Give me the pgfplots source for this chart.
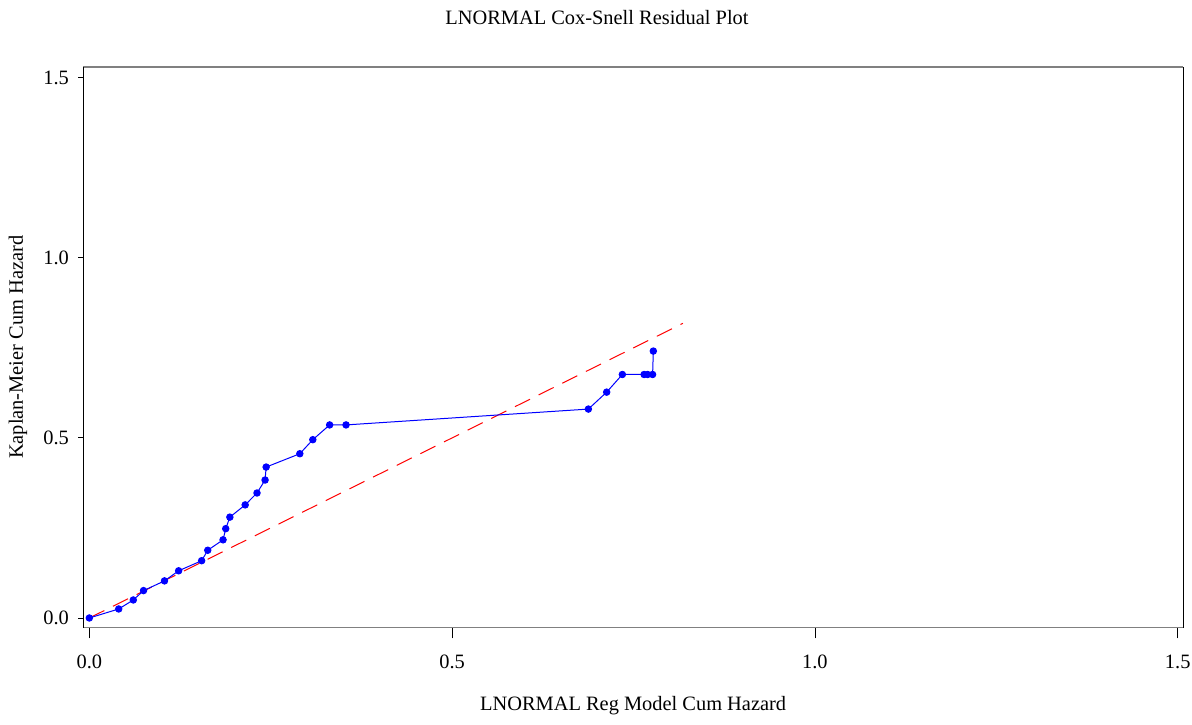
\documentclass[border=0pt]{standalone}
\usepackage{fontspec}
\setmainfont{Liberation Serif}
\usepackage{pgfplots}
\pgfplotsset{compat=1.18}
\begin{document}
\begin{tikzpicture}
\begin{axis}[
  scale only axis,
  width=549.85pt, height=280.35pt,
  xmin=-0.0083, xmax=1.5073,
  ymin=-0.027, ymax=1.5297,
  xtick={0,0.5,1,1.5}, ytick={0,0.5,1,1.5},
  xtick pos=bottom, ytick pos=left,
  tick align=outside,
  major tick length=5.3pt,
  ytick style={/pgfplots/major tick length=2.5pt},
  every tick/.style={black, line width=0.4pt},
  separate axis lines,
  x axis line style={draw={rgb,255:red,128;green,128;blue,128}, line width=0.65pt},
  y axis line style={draw=black, line width=0.45pt},
  /pgf/number format/assume math mode=true,
  xticklabel={\pgfmathprintnumber[fixed,fixed zerofill,precision=1]{\tick}},
  yticklabel={\pgfmathprintnumber[fixed,fixed zerofill,precision=1]{\tick}},
  font=\fontsize{10.2}{12}\selectfont,
  ticklabel style={font=\fontsize{10.2}{12}\selectfont},
  xticklabel style={anchor=base, inner sep=0pt, yshift=-14.9pt},
  yticklabel style={anchor=east, inner sep=0pt, xshift=-1.7pt},
  xlabel={LNORMAL Reg Model Cum Hazard},
  ylabel={Kaplan-Meier Cum Hazard},
  xlabel style={at={(rel axis cs:0.5,-0.147)}, anchor=base, inner sep=0pt},
  ylabel style={at={(rel axis cs:-0.0549,0.5)}, anchor=base, inner sep=0pt, rotate=0},
  title={LNORMAL Cox-Snell Residual Plot},
  title style={at={(rel axis cs:0.4671,1.0749)}, anchor=base, inner sep=0pt, yshift=-6pt, font=\fontsize{10.2}{12}\selectfont},
]
\addplot[red, line width=0.5pt, dash pattern=on 8.4pt off 4.8pt] coordinates {(0,0) (0.818,0.818)};
\addplot[blue, line width=0.5pt, mark=*, mark size=1.6pt, mark options={solid, fill=blue, draw=blue}] coordinates {
(0.0000,0.000)
(0.0405,0.025)
(0.0606,0.050)
(0.0747,0.076)
(0.1036,0.103)
(0.1231,0.131)
(0.1548,0.159)
(0.1632,0.188)
(0.1843,0.217)
(0.1880,0.248)
(0.1937,0.280)
(0.2148,0.314)
(0.2311,0.347)
(0.2422,0.383)
(0.2437,0.419)
(0.2901,0.456)
(0.3080,0.495)
(0.3312,0.536)
(0.3538,0.536)
(0.6878,0.580)
(0.7130,0.627)
(0.7346,0.676)
(0.7646,0.676)
(0.7694,0.676)
(0.7763,0.676)
(0.7773,0.741)
};
\end{axis}
\pgfresetboundingbox
\path[use as bounding box] ([xshift=-41.65pt,yshift=-48.15pt]current axis.south west) rectangle ([xshift=4.5pt,yshift=33.5pt]current axis.north east);
\end{tikzpicture}
\end{document}
